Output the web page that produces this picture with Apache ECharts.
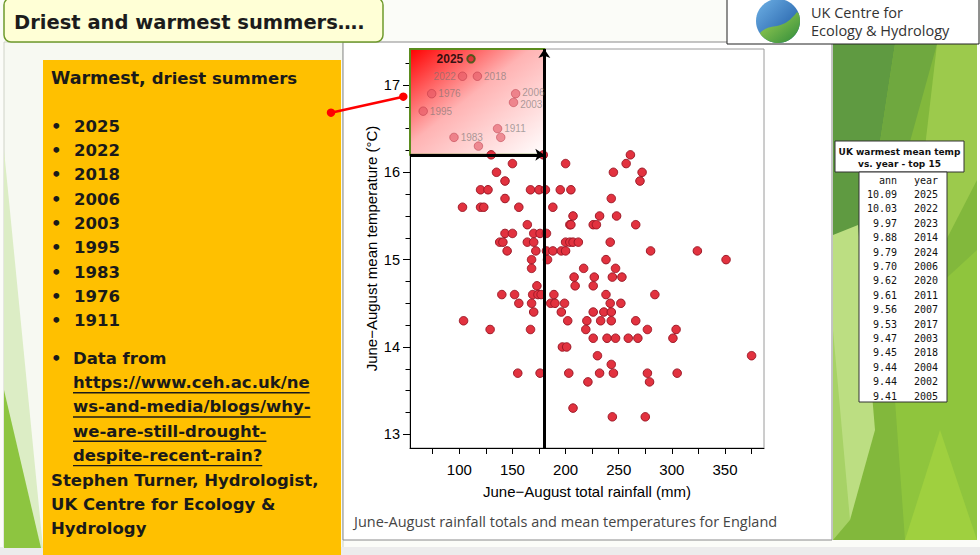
<!DOCTYPE html>
<html>
<head>
<meta charset="utf-8">
<title>Driest and warmest summers</title>
<script src="https://cdn.jsdelivr.net/npm/echarts@6/dist/echarts.min.js"></script>
<style>
html, body { margin: 0; padding: 0; background: #fff; }
#chart { width: 980px; height: 555px; }
</style>
</head>
<body>
<div id="chart"></div>
<script>
// June-August total rainfall (mm) and mean temperature (C), England
var rain = [
	130, 179, 261,
	150, 200, 257,
	135, 245, 272,
	143, 270,
	120, 127, 167, 175, 181, 195, 205,
	143, 243,
	103, 120, 123, 156, 188,
	207, 232, 248,
	164, 204, 205, 226, 229, 266,
	143, 150, 170, 176, 182,
	138, 141, 164, 170, 200, 204, 207, 212, 242,
	145, 172, 182, 188, 196, 200, 280, 324,
	168, 183, 238, 351,
	168, 217, 247,
	208, 227, 244, 253,
	173, 209, 226,
	140, 152, 169, 174, 177, 189, 238, 284,
	156, 168, 186, 190, 199, 242, 252,
	170, 196, 226, 236, 243,
	104, 202, 220, 233, 243, 266,
	129, 167, 219, 277, 304,
	226, 239, 247, 259, 268, 301,
	197, 201,
	230, 375,
	243,
	155, 176, 203, 232, 245, 277, 305,
	221, 279,
	207,
	244, 275
];
var temp = [
	16.2, 16.2, 16.2,
	16.1, 16.1, 16.1,
	16.0, 16.0, 16.0,
	15.9, 15.9,
	15.8, 15.8, 15.8, 15.8, 15.8, 15.8, 15.8,
	15.7, 15.7,
	15.6, 15.6, 15.6, 15.6, 15.6,
	15.5, 15.5, 15.5,
	15.4, 15.4, 15.4, 15.4, 15.4, 15.4,
	15.3, 15.3, 15.3, 15.3, 15.3,
	15.2, 15.2, 15.2, 15.2, 15.2, 15.2, 15.2, 15.2, 15.2,
	15.1, 15.1, 15.1, 15.1, 15.1, 15.1, 15.1, 15.1,
	15.0, 15.0, 15.0, 15.0,
	14.9, 14.9, 14.9,
	14.8, 14.8, 14.8, 14.8,
	14.7, 14.7, 14.7,
	14.6, 14.6, 14.6, 14.6, 14.6, 14.6, 14.6, 14.6,
	14.5, 14.5, 14.5, 14.5, 14.5, 14.5, 14.5,
	14.4, 14.4, 14.4, 14.4, 14.4,
	14.3, 14.3, 14.3, 14.3, 14.3, 14.3,
	14.2, 14.2, 14.2, 14.2, 14.2,
	14.1, 14.1, 14.1, 14.1, 14.1, 14.1,
	14.0, 14.0,
	13.9, 13.9,
	13.8,
	13.7, 13.7, 13.7, 13.7, 13.7, 13.7, 13.7,
	13.6, 13.6,
	13.3,
	13.2, 13.2
];

// points inside the highlighted warm/dry corner
var boxYears = ['2025', '2022', '2018', '1976', '2006', '2003', '1995', '1911', '', '1983', ''];
var boxRain = [111, 103, 117, 74, 153, 151, 66, 136, 139, 95, 118];
var boxTemp = [17.3, 17.1, 17.1, 16.9, 16.9, 16.8, 16.7, 16.5, 16.4, 16.4, 16.3];

var dryLimit = 180;
var warmLimit = 16.2;

var xMajor = [100, 150, 200, 250, 300, 350];
var xMinor = [75, 125, 175, 225, 275, 325, 375];
var yMajor = [13, 14, 15, 16, 17];
var yMinor = [13.25, 13.5, 13.75, 14.25, 14.5, 14.75, 15.25, 15.5, 15.75, 16.25, 16.5, 16.75, 17.25];

var bulletYears = ['2025', '2022', '2018', '2006', '2003', '1995', '1983', '1976', '1911'];
var linkLines = ['https://www.ceh.ac.uk/ne', 'ws-and-media/blogs/why-', 'we-are-still-drought-', 'despite-recent-rain?'];
var creditLines = ['Stephen Turner, Hydrologist,', 'UK Centre for Ecology &', 'Hydrology'];

var tableAnn = ['10.09', '10.03', '9.97', '9.88', '9.79', '9.70', '9.62', '9.61', '9.56', '9.53', '9.47', '9.45', '9.44', '9.44', '9.41'];
var tableYear = ['2025', '2022', '2023', '2014', '2024', '2006', '2020', '2011', '2007', '2017', '2003', '2018', '2004', '2002', '2005'];

var xMin = 53.6, xMax = 386.7, yMin = 12.843, yMax = 17.412;

var myChart = echarts.init(document.getElementById('chart'), null, { renderer: 'svg' });

var ctx = document.createElement('canvas').getContext('2d');
function textWidth(s, font) {
	ctx.font = font;
	return ctx.measureText(s).width;
}

var g = [];
function rect(x, y, w, h, style, z, r) {
	g.push({ type: 'rect', z: z, silent: true, shape: { x: x, y: y, width: w, height: h, r: r || 0 }, style: style });
}
function poly(pts, fill, z) {
	g.push({ type: 'polygon', z: z, silent: true, shape: { points: pts }, style: { fill: fill } });
}
function text(x, y, s, font, fill, align) {
	g.push({
		type: 'text', x: x, y: y, z: 50, silent: true,
		style: { text: s, font: font, fill: fill || '#1a1a1a', align: align || 'left', verticalAlign: 'middle', textAlign: align || 'left', textVerticalAlign: 'middle' }
	});
}

// slide background
rect(0, 0, 980, 555, { fill: '#fbfcf8' }, -20);
rect(4, 42, 339, 506, { fill: '#f7f9f2', stroke: '#d0d4c8', lineWidth: 1 }, -19);
rect(0, 547, 980, 8, { fill: '#ececec' }, -19);
poly([[4, 150], [43, 548], [4, 548]], '#dcedc5', -18);
poly([[4, 390], [41, 548], [4, 548]], '#8dc540', -17);

// green band on the right
rect(833, 44, 144, 496, { fill: '#82b83c' }, -18);
poly([[833, 44], [895, 44], [862, 260], [833, 330]], '#5f9a41', -17);
poly([[895, 44], [937, 44], [880, 250], [862, 260]], '#6fa83f', -17);
poly([[937, 44], [977, 44], [977, 180], [905, 320]], '#9cca4c', -17);
poly([[833, 235], [858, 225], [875, 430], [850, 520], [833, 520]], '#bcde82', -16);
poly([[833, 330], [850, 520], [833, 540]], '#a7d266', -16);
poly([[890, 330], [977, 250], [977, 540], [905, 540]], '#8fc53d', -16);
poly([[905, 540], [940, 430], [977, 540]], '#9fd03f', -15);

// chart panel
rect(343, 42, 489, 498, { fill: '#ffffff', stroke: '#8a8a8a', lineWidth: 1 }, -10);
text(354, 521, 'June-August rainfall totals and mean temperatures for England', '14.5px "Open Sans"', '#454545');

// title
rect(4, -2, 379, 44, { fill: '#ffffd6', stroke: '#6f9a2d', lineWidth: 1.5 }, 20, 7);
text(14, 22, 'Driest and warmest summers….', 'bold 19.5px "DejaVu Sans"', '#1c1c1c');

// logo box with a two-tone disc
rect(727, -1, 252, 45, { fill: '#ffffff', stroke: '#222', lineWidth: 1 }, 20);
var lcx = 778, lcy = 21, lr = 22;
g.push({
	type: 'circle', z: 21, silent: true, shape: { cx: lcx, cy: lcy, r: lr },
	style: { fill: new echarts.graphic.LinearGradient(0, 0, 1, 1, [{ offset: 0, color: '#6fb2e6' }, { offset: 1, color: '#15509d' }]) }
});
var leaf = [];
var p0 = [760, 33], c1 = [772, 21], c2 = [781, 33], p1 = [797, 12];
for (var t = 0; t <= 1.0001; t += 0.05) {
	var u = 1 - t;
	leaf.push([
		u * u * u * p0[0] + 3 * u * u * t * c1[0] + 3 * u * t * t * c2[0] + t * t * t * p1[0],
		u * u * u * p0[1] + 3 * u * u * t * c1[1] + 3 * u * t * t * c2[1] + t * t * t * p1[1]
	]);
}
var a0 = Math.atan2(p1[1] - lcy, p1[0] - lcx), a1 = Math.atan2(p0[1] - lcy, p0[0] - lcx);
for (var k = 1; k < 30; k++) {
	var a = a0 + (a1 - a0) * k / 30;
	leaf.push([lcx + lr * Math.cos(a), lcy + lr * Math.sin(a)]);
}
g.push({
	type: 'polygon', z: 22, silent: true, shape: { points: leaf },
	style: { fill: new echarts.graphic.LinearGradient(0, 0, 1, 1, [{ offset: 0, color: '#a6d455' }, { offset: 1, color: '#2e8b3a' }]) }
});
text(811, 12.5, 'UK Centre for', '14.5px "Open Sans"', '#333');
text(811, 30, 'Ecology & Hydrology', '14.5px "Open Sans"', '#333');

// left orange panel
rect(43, 60, 298, 495, { fill: '#ffc000' }, -5);
var fBig = 'bold 17.5px "DejaVu Sans"';
var fBody = 'bold 16.5px "DejaVu Sans"';
text(51, 78, 'Warmest,', fBig);
text(51 + textWidth('Warmest, ', fBig), 78, 'driest summers', fBody);
for (var i = 0; i < bulletYears.length; i++) {
	var by = 126 + i * 24.35;
	text(51, by, '•', fBody);
	text(74, by, bulletYears[i], fBody);
}
text(51, 358, '•', fBody);
text(73, 358, 'Data from', fBody);
for (var i = 0; i < linkLines.length; i++) {
	var ly = 382.5 + i * 24.3;
	text(73, ly, linkLines[i], fBody);
	rect(73, ly + 9.5, textWidth(linkLines[i], fBody), 1.4, { fill: '#1a1a1a' }, 50);
}
for (var i = 0; i < creditLines.length; i++) {
	text(51, 480 + i * 24, creditLines[i], fBody);
}

// connector from the panel to the highlighted corner
g.push({ type: 'line', z: 60, silent: true, shape: { x1: 331, y1: 112.7, x2: 403.3, y2: 96.7 }, style: { stroke: '#ff0000', lineWidth: 2.5 } });
g.push({ type: 'circle', z: 61, silent: true, shape: { cx: 331, cy: 112.7, r: 4.2 }, style: { fill: '#ff0000' } });
g.push({ type: 'circle', z: 61, silent: true, shape: { cx: 403.3, cy: 96.7, r: 4.2 }, style: { fill: '#ff0000' } });

// UK warmest table
rect(835, 141, 129, 31, { fill: '#ffffff', stroke: '#333', lineWidth: 1 }, 20);
text(899.5, 151.5, 'UK warmest mean temp', 'bold 9px "DejaVu Sans"', '#111', 'center');
text(899.5, 163.5, 'vs. year - top 15', 'bold 9px "DejaVu Sans"', '#111', 'center');
rect(859, 172, 88, 230, { fill: '#ffffff', stroke: '#333', lineWidth: 1 }, 20);
var fMono = '10px "DejaVu Sans Mono"';
text(897, 180, 'ann', fMono, '#111', 'right');
text(938, 180, 'year', fMono, '#111', 'right');
for (var i = 0; i < tableAnn.length; i++) {
	var ty = 194.5 + i * 14.4;
	text(897, ty, tableAnn[i], fMono, '#111', 'right');
	text(938, ty, tableYear[i], fMono, '#111', 'right');
}

var mainData = [];
for (var i = 0; i < rain.length; i++) {
	mainData.push([rain[i], temp[i]]);
}
var leftLabels = ['2025', '2022'];
// nudges so the two close labels do not collide
var labelNudge = { '2006': [0, -1.5], '2003': [0, 2] };
var boxData = [];
for (var i = 1; i < boxRain.length; i++) {
	boxData.push({
		value: [boxRain[i], boxTemp[i]],
		name: boxYears[i],
		label: {
			position: leftLabels.indexOf(boxYears[i]) >= 0 ? 'left' : 'right',
			offset: labelNudge[boxYears[i]] || [0, 0]
		}
	});
}

var axisFont = 'Liberation Sans';
option = {
	animation: false,
	graphic: { elements: g },
	grid: {
		left: 410, right: 216, top: 49, bottom: 107,
		show: true, borderColor: '#9a9a9a', borderWidth: 1, backgroundColor: 'transparent',
		containLabel: false, outerBoundsMode: 'none'
	},
	xAxis: [{
		type: 'value', min: xMin, max: xMax, position: 'bottom',
		axisLine: { show: true, onZero: false, lineStyle: { color: '#000', width: 1 } },
		axisTick: { show: true, customValues: xMajor, length: 6, lineStyle: { color: '#000' } },
		axisLabel: { customValues: xMajor, color: '#000', fontSize: 15, fontFamily: axisFont, margin: 14 },
		splitLine: { show: false },
		name: 'June−August total rainfall (mm)', nameLocation: 'middle', nameGap: 36,
		nameTextStyle: { color: '#000', fontSize: 15, fontFamily: axisFont }
	}, {
		type: 'value', min: xMin, max: xMax, position: 'bottom',
		axisLine: { show: false, onZero: false },
		axisTick: { show: true, customValues: xMinor, length: 6, lineStyle: { color: '#000' } },
		axisLabel: { show: false },
		splitLine: { show: false }
	}],
	yAxis: [{
		type: 'value', min: yMin, max: yMax, position: 'left',
		axisLine: { show: true, onZero: false, lineStyle: { color: '#000', width: 1 } },
		axisTick: { show: true, customValues: yMajor, length: 7, lineStyle: { color: '#000' } },
		axisLabel: { customValues: yMajor, color: '#000', fontSize: 14.5, fontFamily: axisFont, margin: 10 },
		splitLine: { show: false },
		name: 'June−August mean temperature (°C)', nameLocation: 'middle', nameGap: 31, nameRotate: 90,
		nameTextStyle: { color: '#000', fontSize: 15, fontFamily: axisFont }
	}, {
		type: 'value', min: yMin, max: yMax, position: 'left',
		axisLine: { show: false, onZero: false },
		axisTick: { show: true, customValues: yMinor, length: 4.5, lineStyle: { color: '#000' } },
		axisLabel: { show: false },
		splitLine: { show: false }
	}],
	series: [{
		name: 'corner', type: 'scatter', data: [], z: 1, silent: true,
		markArea: {
			silent: true,
			label: { show: false },
			itemStyle: {
				opacity: 1, borderColor: '#5b8c1e', borderWidth: 2,
				color: new echarts.graphic.LinearGradient(0, 0, 1, 1, [
					{ offset: 0, color: '#ff0000' },
					{ offset: 0.45, color: '#ffb3b3' },
					{ offset: 1, color: '#ffffff' }
				])
			},
			data: [[{ coord: [xMin, warmLimit] }, { coord: [dryLimit, yMax] }]]
		}
	}, {
		name: 'summers', type: 'scatter', data: mainData, z: 3,
		symbol: 'circle', symbolSize: 8.5,
		itemStyle: { color: '#e2323f', borderColor: '#9c1826', borderWidth: 1, opacity: 1 }
	}, {
		name: 'warm dry', type: 'scatter', data: boxData, z: 7,
		symbol: 'circle', symbolSize: 8.5,
		itemStyle: { color: '#e25563', borderColor: '#b03040', borderWidth: 0.8, opacity: 0.6 },
		label: {
			show: true, formatter: function(p) { return p.name; },
			color: '#6e6e6e', fontSize: 10, fontFamily: axisFont, distance: 2
		}
	}, {
		name: boxYears[0], type: 'scatter', z: 8,
		data: [{ value: [boxRain[0], boxTemp[0]], name: boxYears[0] }],
		symbol: 'circle', symbolSize: 7.5,
		itemStyle: { color: '#d8282e', borderColor: '#2e5a10', borderWidth: 2 },
		label: {
			show: true, position: 'left', formatter: function(p) { return p.name; },
			color: '#000', fontSize: 12, fontWeight: 'bold', fontFamily: axisFont, distance: 3
		}
	}, {
		name: 'limits', type: 'scatter', data: [], z: 6, silent: true,
		markLine: {
			silent: true,
			symbol: ['none', 'arrow'], symbolSize: [9, 9],
			label: { show: false },
			lineStyle: { color: '#000', width: 3, type: 'solid' },
			data: [
				[{ coord: [xMin, warmLimit] }, { coord: [dryLimit, warmLimit] }],
				[{ coord: [dryLimit, yMin] }, { coord: [dryLimit, yMax] }]
			]
		}
	}]
};
myChart.setOption(option);
</script>
</body>
</html>
